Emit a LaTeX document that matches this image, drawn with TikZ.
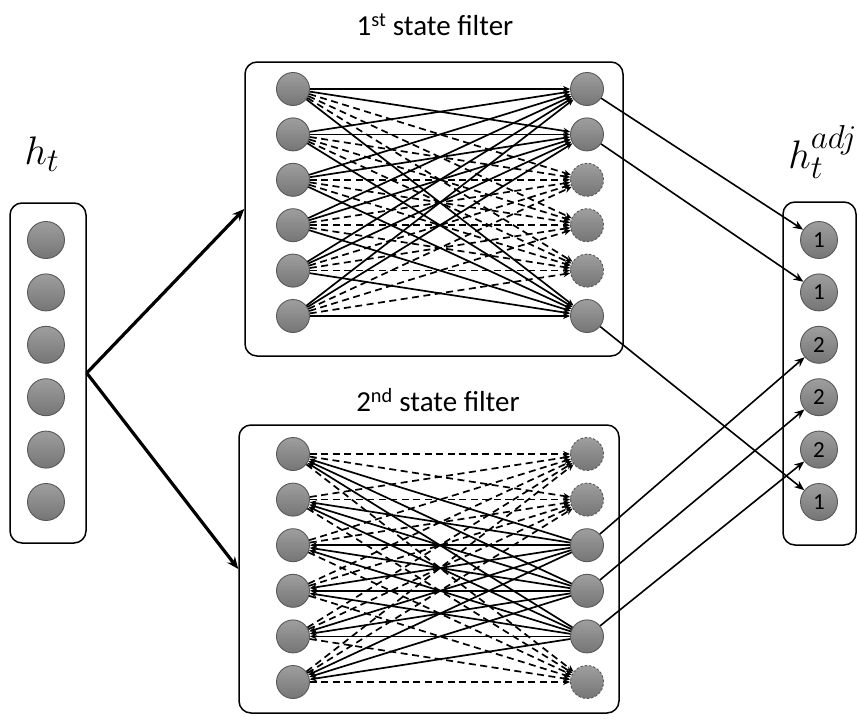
\documentclass[tikz,border=0pt]{standalone}
\usepackage{fontspec}
\setmainfont{Carlito}
\usetikzlibrary{arrows.meta}
\begin{document}
\begin{tikzpicture}[x=1pt,y=-1pt,
  neuron/.style={circle,draw=black!65,line width=0.9pt,top color=black!38,bottom color=black!54,
                 minimum size=33pt,inner sep=0pt},
  ghost/.style={neuron,dash pattern=on 2.5pt off 1.8pt},
  bigneuron/.style={neuron,minimum size=37pt,font=\fontsize{23}{23}\selectfont},
  panel/.style={draw,line width=1.5pt,rounded corners=12pt,inner sep=0pt},
  link/.style={line width=1.7pt,-{Stealth[length=7pt,width=6pt]}},
  dlink/.style={link,dash pattern=on 7pt off 4.5pt},
  feed/.style={line width=1.6pt,-{Stealth[length=10pt,width=8pt]}},
  branch/.style={line width=3.2pt,-{Stealth[length=12pt,width=10pt]}},
  title/.style={font=\fontsize{29}{29}\selectfont},
  vec/.style={font=\fontsize{24.88}{25}\selectfont,scale=1.6,inner sep=0pt}]
\useasboundingbox (0,0) rectangle (857,720);

% panels
\node[panel,minimum width=76pt,minimum height=340pt] (inbox) at (48,373) {};
\node[panel,minimum width=73pt,minimum height=343pt] (outbox) at (819.5,373.5) {};
\node[panel,minimum width=378pt,minimum height=294pt] (topbox) at (434,209) {};
\node[panel,minimum width=380pt,minimum height=288pt] (botbox) at (429,569) {};

% titles and vector labels
\node[title] (toptitle) at (435,25) {1\textsuperscript{st} state filter};
\node[title] (bottitle) at (438,400) {2\textsuperscript{nd} state filter};
\node[vec] (hin) at (42,154) {$h_t$};
\node[vec,anchor=west] (hout) at (788,152) {$h_t^{adj}$};

% input and output vectors
\foreach \i in {1,...,6}{
  \pgfmathsetmacro\yv{240+52.4*(\i-1)}
  \node[bigneuron] (in\i) at (46,\yv) {};
}
\foreach \i/\lab in {1/1,2/1,3/2,4/2,5/2,6/1}{
  \pgfmathsetmacro\yv{240+52.4*(\i-1)}
  \node[bigneuron] (out\i) at (819,\yv) {\lab};
}

% first state filter: units 3-5 on the right are suppressed
\foreach \i in {1,...,6}{
  \pgfmathsetmacro\yv{89+45.4*(\i-1)}
  \node[neuron] (tl\i) at (293,\yv) {};
}
\foreach \i in {1,2,6}{
  \pgfmathsetmacro\yv{89+45.4*(\i-1)}
  \node[neuron] (tr\i) at (587,\yv) {};
}
\foreach \i in {3,4,5}{
  \pgfmathsetmacro\yv{89+45.4*(\i-1)}
  \node[ghost] (tr\i) at (587,\yv) {};
}

% second state filter: units 1, 2 and 6 on the right are suppressed
\foreach \i in {1,...,6}{
  \pgfmathsetmacro\yv{454+45.6*(\i-1)}
  \node[neuron] (bl\i) at (293,\yv) {};
}
\foreach \i in {3,4,5}{
  \pgfmathsetmacro\yv{454+45.6*(\i-1)}
  \node[neuron] (br\i) at (587,\yv) {};
}
\foreach \i in {1,2,6}{
  \pgfmathsetmacro\yv{454+45.6*(\i-1)}
  \node[ghost] (br\i) at (587,\yv) {};
}

% connections inside the first filter
\foreach \i in {1,...,6}{
  \foreach \j in {3,4,5}{\draw[dlink] (tl\i) -- (tr\j);}
}
\foreach \i in {1,...,6}{
  \foreach \j in {1,2,6}{\draw[link] (tl\i) -- (tr\j);}
}

% connections inside the second filter
\foreach \i in {1,...,6}{
  \foreach \j in {1,2,6}{\draw[dlink] (bl\i) -- (br\j);}
}
\foreach \i in {1,...,6}{
  \foreach \j in {3,4,5}{\draw[link] (br\j) -- (bl\i);}
}

% input split into both filters
\coordinate (split) at (inbox.east);
\draw[branch] (split) -- (topbox.west);
\draw[branch] (split) -- (botbox.west);

% filtered units to the adjusted state
\draw[feed] (tr1) -- (out1);
\draw[feed] (tr2) -- (out2);
\draw[feed] (tr6) -- (out6);
\draw[feed] (br3) -- (out3);
\draw[feed] (br4) -- (out4);
\draw[feed] (br5) -- (out5);
\end{tikzpicture}
\end{document}
